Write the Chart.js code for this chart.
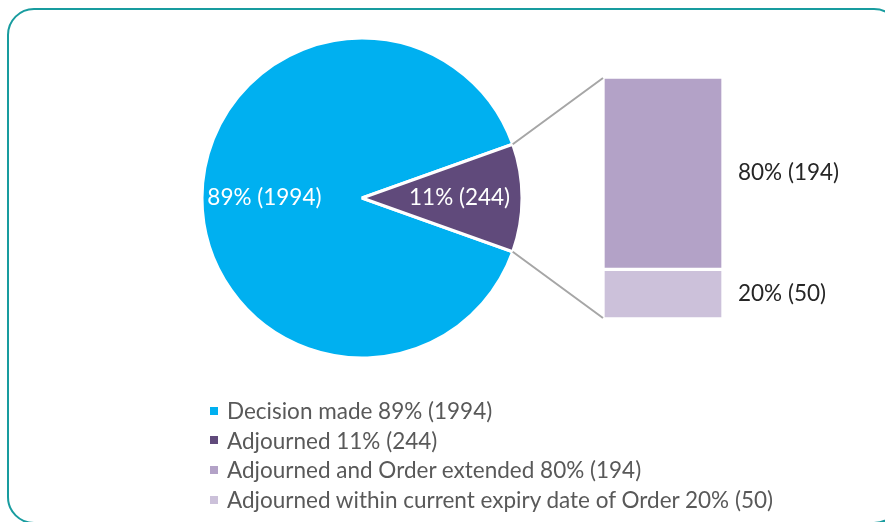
<!DOCTYPE html>
<html>
<head>
<meta charset="utf-8">
<script src="https://cdn.jsdelivr.net/npm/chart.js@4.4.0/dist/chart.umd.min.js"></script>
<style>
  html, body { margin: 0; padding: 0; background: #fff; overflow: hidden; }
  #wrap { position: relative; width: 885px; height: 522px; overflow: hidden; }
  #frame { position: absolute; left: 7px; top: 8px; width: 890px; height: 512px;
           border: 2.5px solid #189c9f; border-radius: 27px; }
  canvas { position: absolute; left: 0; top: 0; }
  #legend { position: absolute; left: 210px; top: 396px; font-family: Lato, sans-serif;
            font-size: 22.5px; color: #595959; }
  .row { height: 29.6px; display: flex; align-items: center; white-space: nowrap; }
  .box { width: 8px; height: 8px; margin-right: 9px; flex: none; }
</style>
</head>
<body>
<div id="wrap">
  <div id="frame"></div>
  <canvas id="pie" width="885" height="522"></canvas>
  <canvas id="bar" width="885" height="522"></canvas>
  <div id="legend"></div>
</div>
<script>
// pie data
const pieLabels = ['Decision made', 'Adjourned'];
const pieValues = [1994, 244];
// breakdown of "Adjourned" (bar), listed top to bottom
const barLabels = ['Adjourned and Order extended', 'Adjourned within current expiry date of Order'];
const barValues = [194, 50];

const pieColors = ['#00b0f0', '#604a7b'];
const barColors = ['#b3a2c7', '#ccc1da'];

Chart.defaults.font.family = 'Lato';

const pieTotal = pieValues.reduce((a, b) => a + b, 0);
const barTotal = barValues.reduce((a, b) => a + b, 0);
const pct = (v, t) => Math.round(v / t * 100) + '%';

// labels inside the pie slices
const pieLabelPlugin = {
    id: 'pieLabels',
    afterDatasetsDraw(chart) {
        const ctx = chart.ctx;
        const meta = chart.getDatasetMeta(0);
        ctx.save();
        ctx.font = '22.5px Lato';
        ctx.fillStyle = '#fff';
        ctx.textAlign = 'center';
        ctx.textBaseline = 'middle';
        meta.data.forEach((arc, i) => {
            const mid = (arc.startAngle + arc.endAngle) / 2;
            const d = arc.outerRadius * 0.61;
            const v = pieValues[i];
            ctx.fillText(pct(v, pieTotal) + ' (' + v + ')', arc.x + d * Math.cos(mid), arc.y + d * Math.sin(mid));
        });
        ctx.restore();
    }
};

const pieChart = new Chart(document.getElementById('pie'), {
    type: 'pie',
    data: {
        labels: pieLabels,
        datasets: [{
            data: pieValues,
            backgroundColor: pieColors,
            borderColor: '#fff',
            borderWidth: 3,
            hoverOffset: 0,
            radius: 160
        }]
    },
    options: {
        responsive: false,
        animation: false,
        events: [],
        // put the "Adjourned" slice centred on the right
        rotation: 90 + pieValues[1] / pieTotal * 180,
        layout: { padding: { left: 202, top: 38, right: 363, bottom: 164 } },
        plugins: { legend: { display: false }, tooltip: { enabled: false } }
    },
    plugins: [pieLabelPlugin]
});

// connector lines + labels next to the bar
const barExtras = {
    id: 'barExtras',
    afterDatasetsDraw(chart) {
        const ctx = chart.ctx;
        const arc = pieChart.getDatasetMeta(0).data[1];
        const topEl = chart.getDatasetMeta(1).data[0];
        const botEl = chart.getDatasetMeta(0).data[0];
        const left = topEl.x - topEl.width / 2;
        ctx.save();
        ctx.strokeStyle = '#a6a6a6';
        ctx.lineWidth = 2;
        ctx.beginPath();
        ctx.moveTo(arc.x + arc.outerRadius * Math.cos(arc.startAngle), arc.y + arc.outerRadius * Math.sin(arc.startAngle));
        ctx.lineTo(left, topEl.y + 1);
        ctx.moveTo(arc.x + arc.outerRadius * Math.cos(arc.endAngle), arc.y + arc.outerRadius * Math.sin(arc.endAngle));
        ctx.lineTo(left, botEl.base - 1);
        ctx.stroke();

        ctx.font = '22.5px Lato';
        ctx.fillStyle = '#262626';
        ctx.textAlign = 'left';
        ctx.textBaseline = 'middle';
        chart.data.datasets.forEach((ds, i) => {
            const el = chart.getDatasetMeta(i).data[0];
            const v = ds.data[0];
            ctx.fillText(pct(v, barTotal) + ' (' + v + ')', el.x + el.width / 2 + 15, (el.y + el.base) / 2);
        });
        ctx.restore();
    }
};

// stacked: first dataset sits at the bottom, so reverse the top-to-bottom lists
const barDatasets = barLabels.map((l, i) => ({
    label: l,
    data: [barValues[i]],
    backgroundColor: barColors[i],
    borderColor: '#fff',
    borderWidth: 2,
    borderSkipped: false,
    barPercentage: 1,
    categoryPercentage: 1
})).reverse();

new Chart(document.getElementById('bar'), {
    type: 'bar',
    data: { labels: ['Adjourned'], datasets: barDatasets },
    options: {
        responsive: false,
        animation: false,
        events: [],
        layout: { padding: { left: 603, right: 162, top: 77, bottom: 203 } },
        scales: {
            x: { display: false, stacked: true },
            y: { display: false, stacked: true, min: 0, max: barTotal }
        },
        plugins: { legend: { display: false }, tooltip: { enabled: false } }
    },
    plugins: [barExtras]
});

// legend
const legendItems = [
    [pieLabels[0], pieValues[0], pieTotal, pieColors[0]],
    [pieLabels[1], pieValues[1], pieTotal, pieColors[1]],
    [barLabels[0], barValues[0], barTotal, barColors[0]],
    [barLabels[1], barValues[1], barTotal, barColors[1]]
];
const legend = document.getElementById('legend');
legendItems.forEach(([name, v, t, c]) => {
    const row = document.createElement('div');
    row.className = 'row';
    const box = document.createElement('span');
    box.className = 'box';
    box.style.background = c;
    row.appendChild(box);
    row.appendChild(document.createTextNode(name + ' ' + pct(v, t) + ' (' + v + ')'));
    legend.appendChild(row);
});
</script>
</body>
</html>
